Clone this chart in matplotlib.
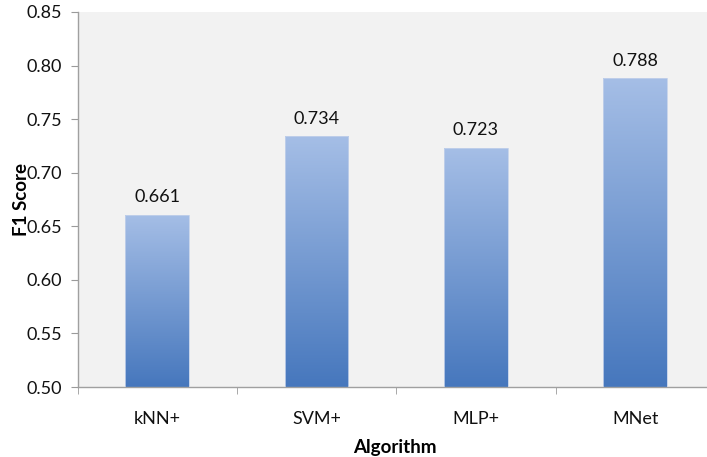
import numpy as np
import matplotlib.pyplot as plt
from matplotlib.colors import LinearSegmentedColormap
from matplotlib.ticker import FixedLocator

plt.rcParams['font.family'] = ['Lato', 'DejaVu Sans']

algorithms = ['kNN+', 'SVM+', 'MLP+', 'MNet']
f1_scores = [0.661, 0.734, 0.723, 0.788]
value_labels = ['0.661', '0.734', '0.723', '0.788']
yticks = [0.50, 0.55, 0.60, 0.65, 0.70, 0.75, 0.80, 0.85]

fig = plt.figure(figsize=(7.07, 4.57), dpi=100)
# plot area runs past the right edge of the picture, like the original crop
ax = fig.add_axes([77.5/707, (457-387)/457, (715-77.5)/707, 375/457])
ax.set_facecolor('#f2f2f2')

x = np.arange(len(algorithms))
bars = ax.bar(x, f1_scores, width=0.40, color='none', edgecolor='#c3d1ea', linewidth=0.6, zorder=3)

cmap = LinearSegmentedColormap.from_list('bar', ['#4677bd', '#a5bee6'])
grad = np.linspace(0, 1, 256).reshape(-1, 1)
for b in bars:
    x0, w, h = b.get_x(), b.get_width(), b.get_height()
    im = ax.imshow(grad, cmap=cmap, origin='lower', aspect='auto',
                   extent=[x0, x0 + w, 0.50, h], zorder=2)
    im.set_clip_path(b)

for xi, v, lab in zip(x, f1_scores, value_labels):
    ax.annotate(lab, (xi, v), xytext=(0, 7), textcoords='offset points',
                ha='center', va='bottom', fontsize=13, color='#111111')

ax.set_xlim(-0.5, len(algorithms) - 0.5)
ax.set_ylim(0.50, 0.85)
ax.set_yticks(yticks)
ax.set_yticklabels(['%.2f' % t for t in yticks])
ax.set_xticks(x)
ax.set_xticklabels(algorithms)
ax.xaxis.set_minor_locator(FixedLocator(np.arange(-0.5, len(algorithms), 1.0)))
ax.tick_params(axis='x', which='major', length=0, pad=17, labelsize=13, labelcolor='#111111')
ax.tick_params(axis='x', which='minor', length=5, color='#9a9a9a', direction='out')
ax.tick_params(axis='y', length=5, color='#9a9a9a', labelsize=13, pad=6, labelcolor='#111111')

for s in ['top', 'right']:
    ax.spines[s].set_visible(False)
for s in ['left', 'bottom']:
    ax.spines[s].set_color('#a0a0a0')
    ax.spines[s].set_linewidth(1.0)

ax.set_ylabel('F1 Score', fontweight='bold', fontsize=13.5)
ax.yaxis.set_label_coords(-48/637.5, 0.5)
ax.set_xlabel('Algorithm', fontweight='bold', fontsize=13.5)
ax.xaxis.set_label_coords((395 - 77.5) / (715 - 77.5), -52/375)

fig.savefig('out.png', dpi=100)
